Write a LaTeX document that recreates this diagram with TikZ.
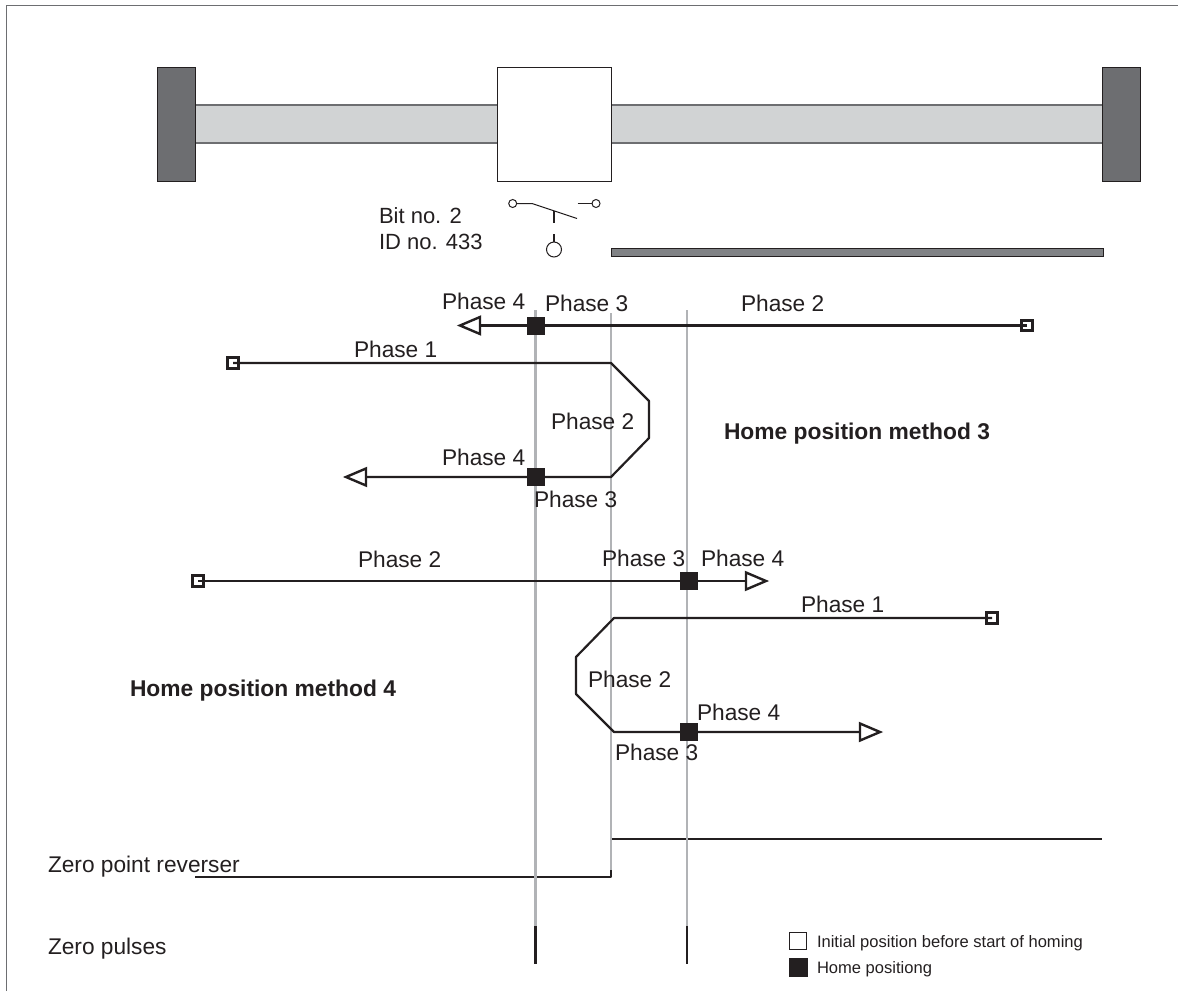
\documentclass[tikz,border=0pt]{standalone}
\usepackage{fontspec}
\setmainfont{Liberation Sans}
\definecolor{ink}{HTML}{231F20}
\definecolor{block}{HTML}{6D6E71}
\definecolor{rail}{HTML}{D1D3D4}
\definecolor{guide}{HTML}{B1B3B6}
\definecolor{barg}{HTML}{808285}
\tikzset{
  x=1pt,y=-1pt,
  lbl/.style={anchor=base west,inner sep=0pt,outer sep=0pt,text=ink,font=\fontsize{22.7}{26}\selectfont},
  bitlbl/.style={lbl,font=\fontsize{22}{26}\selectfont},
  boldlbl/.style={lbl,font=\fontsize{22.8}{26}\selectfont\bfseries},
  leglbl/.style={lbl,font=\fontsize{16.55}{19}\selectfont},
  guideline/.style={draw=guide,line width=2.6pt},
  path line/.style={draw=ink,line width=2.2pt,line join=round},
  homebox/.style={rectangle,fill=ink,draw=none,minimum size=18pt,inner sep=0pt},
  startbox/.style={rectangle,fill=white,draw=ink,line width=2.6pt,minimum size=10.5pt,inner sep=0pt},
  block part/.style={draw=ink,line width=1pt,fill=block},
  open tri/.style={draw=ink,line width=2.4pt,fill=white,line join=miter}
}
\begin{document}
\begin{tikzpicture}
\useasboundingbox (0,0) rectangle (1178,991);
% frame
\coordinate (fa) at (6.5,991); \coordinate (fb) at (6.5,5.5); \coordinate (fc) at (1178,5.5);
\draw[draw=block,line width=1.6pt] (fa) -- (fb) -- (fc);
% rail and blocks
\path[fill=rail] (195,105) rectangle (1102,143);
\coordinate (rtl) at (195,105); \coordinate (rtr) at (1102,105);
\coordinate (rbl) at (195,143); \coordinate (rbr) at (1102,143);
\draw[block,line width=1.3pt] (rtl) -- (rtr) (rbl) -- (rbr);
\draw[block part] (157,67) rectangle (195,181);
\draw[block part] (1102,67) rectangle (1140,181);
\draw[draw=ink,line width=1pt,fill=white] (497.5,67) rectangle (611,181);
% switch
\node[circle,draw=ink,fill=white,line width=1pt,minimum size=8pt,inner sep=0pt] (swl) at (512.7,203.5) {};
\node[circle,draw=ink,fill=white,line width=1pt,minimum size=8pt,inner sep=0pt] (swr) at (596,203.5) {};
\node[circle,draw=ink,fill=white,line width=1pt,minimum size=15pt,inner sep=0pt] (swb) at (554,249.5) {};
\coordinate (k1) at (532,203.5); \coordinate (k2) at (577,218.5); \coordinate (k3) at (577.5,203.5);
\draw[ink,line width=1pt] (swl) -- (k1) -- (k2);
\draw[ink,line width=1pt] (k3) -- (swr);
\coordinate (st1) at (554,211); \coordinate (st2) at (554,222.5); \coordinate (st3) at (554,234);
\draw[ink,line width=2pt] (st1) -- (st2);
\draw[ink,line width=1.4pt] (st3) -- (swb);
\draw[draw=ink,line width=.8pt,fill=barg] (611,248.5) rectangle (1103,256.5);
% zero reverser
\coordinate (zs) at (195,877); \coordinate (z1) at (611,877); \coordinate (z2) at (611,867);
\coordinate (z3) at (612,839); \coordinate (ze) at (1102,839);
\draw[path line] (zs) -- (z1) -- (z2);
\draw[path line] (z3) -- (ze);
% guides
\coordinate (g1t) at (535.5,310); \coordinate (g1b) at (535.5,926);
\coordinate (g2t) at (611,313); \coordinate (g2b) at (611,870);
\coordinate (g3t) at (687,310); \coordinate (g3b) at (687,926);
\draw[guideline] (g1t) -- (g1b);
\draw[guideline] (g2t) -- (g2b);
\draw[guideline] (g3t) -- (g3b);
% zero pulses
\coordinate (p1b) at (535.5,964); \coordinate (p3b) at (687,964);
\draw[ink,line width=2.2pt] (g1b) -- (p1b);
\draw[ink,line width=2.2pt] (g3b) -- (p3b);
% start markers and path nodes
\node[startbox] (s1) at (1027,325.5) {};
\node[startbox] (s2) at (233,363) {};
\node[startbox] (s3) at (198,581) {};
\node[startbox] (s4) at (992,618) {};
\node[homebox] (h1) at (535.5,325.5) {};
\node[homebox] (h2) at (535.5,477) {};
\node[homebox] (h3) at (689,581) {};
\node[homebox] (h4) at (689,732) {};
\coordinate (t1) at (480,325.5);
\coordinate (t2) at (366,477);
\coordinate (t3) at (746,581);
\coordinate (t4) at (860,732);
\draw[path line] (s1.center) -- (t1);
\draw[path line] (s2.center) -- (611,363) -- (649,401) -- (649,438) -- (611,477) -- (t2);
\draw[path line] (s3.center) -- (t3);
\draw[path line] (s4.center) -- (614,618) -- (576,657) -- (576,694) -- (614,732) -- (t4);
% repaint markers above the lines
\node[startbox,fill=none] at (s1) {};
\node[startbox,fill=none] at (s2) {};
\node[startbox,fill=none] at (s3) {};
\node[startbox,fill=none] at (s4) {};
\node[homebox] at (h1) {};
\node[homebox] at (h2) {};
\node[homebox] at (h3) {};
\node[homebox] at (h4) {};
% arrowheads
\draw[open tri] (t1) ++(0,-8.5) -- ++(-20,8.5) -- ++(20,8.5) -- cycle;
\draw[open tri] (t2) ++(0,-8.5) -- ++(-20,8.5) -- ++(20,8.5) -- cycle;
\draw[open tri] (t3) ++(0,-8.5) -- ++(20,8.5) -- ++(-20,8.5) -- cycle;
\draw[open tri] (t4) ++(0,-8.5) -- ++(20,8.5) -- ++(-20,8.5) -- cycle;
% labels
\node[bitlbl] (l01) at (379,223.5) {Bit no. 2};
\node[bitlbl] (l02) at (379,249) {ID no. 433};
\node[lbl] (l03) at (442,309) {Phase 4};
\node[lbl] (l04) at (545,311) {Phase 3};
\node[lbl] (l05) at (741,311) {Phase 2};
\node[lbl] (l06) at (354,357) {Phase 1};
\node[lbl] (l07) at (551,429) {Phase 2};
\node[lbl] (l08) at (442,465) {Phase 4};
\node[lbl] (l09) at (534,507) {Phase 3};
\node[lbl] (l10) at (358,567) {Phase 2};
\node[lbl] (l11) at (602,566) {Phase 3};
\node[lbl] (l12) at (701,566) {Phase 4};
\node[lbl] (l13) at (801,612.5) {Phase 1};
\node[lbl] (l14) at (588,687) {Phase 2};
\node[lbl] (l15) at (697,720) {Phase 4};
\node[lbl] (l16) at (615,760) {Phase 3};
\node[boldlbl] (l17) at (724,439) {Home position method 3};
\node[boldlbl] (l18) at (130,696) {Home position method 4};
\node[lbl] (l19) at (48,872) {Zero point reverser};
\node[lbl] (l20) at (48,954) {Zero pulses};
% legend
\node[rectangle,draw=ink,line width=1.4pt,fill=white,minimum size=17pt,inner sep=0pt] (k5) at (798,941) {};
\node[rectangle,fill=ink,minimum size=19pt,inner sep=0pt] (k6) at (798,967.5) {};
\node[leglbl] (l21) at (817,947) {Initial position before start of homing};
\node[leglbl] (l22) at (817,973) {Home positiong};
\end{tikzpicture}
\end{document}
